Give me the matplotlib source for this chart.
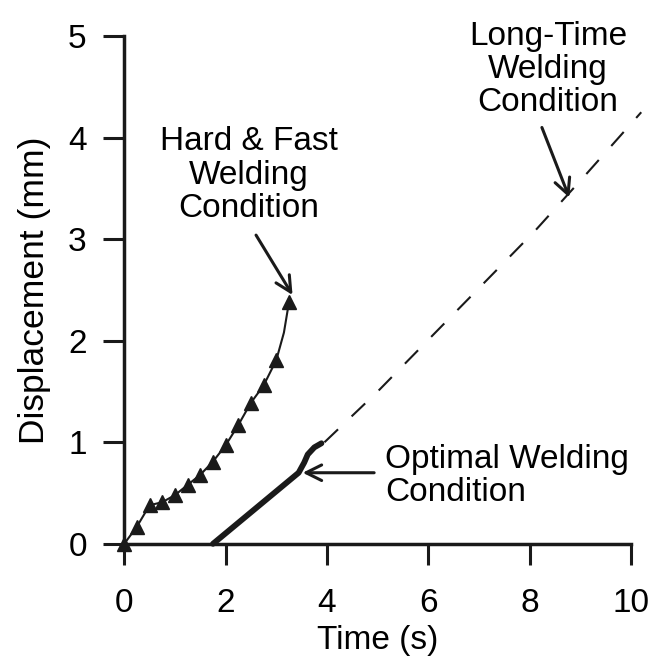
import numpy as np
import matplotlib
matplotlib.use("Agg")
import matplotlib.pyplot as plt

plt.rcParams['font.family'] = ['Liberation Sans', 'DejaVu Sans']

# hard & fast welding (triangles)
hf_t = [0.0, 0.25, 0.5, 0.75, 1.0, 1.25, 1.5, 1.75, 2.0, 2.25, 2.5, 2.75, 3.0, 3.15, 3.25]
hf_d = [0.0, 0.17, 0.38, 0.41, 0.48, 0.58, 0.68, 0.81, 0.97, 1.17, 1.39, 1.56, 1.81, 2.08, 2.38]
hf_marks = [0, 1, 2, 3, 4, 5, 6, 7, 8, 9, 10, 11, 12, 14]

# optimal welding (thick solid)
opt_t = [1.75, 3.44, 3.55, 3.62, 3.75, 3.89]
opt_d = [0.0, 0.70, 0.80, 0.88, 0.95, 0.99]

# long-time welding (dashed)
lt_t = [3.95, 5.0, 6.0, 7.1, 8.1, 9.06, 10.2]
lt_d = [1.0, 1.5, 2.01, 2.57, 3.08, 3.61, 4.25]

fig = plt.figure(figsize=(6.54, 6.56), dpi=100)
ax = fig.add_axes([0.19, 0.171, 0.775, 0.774])

ax.plot(hf_t, hf_d, color='#1a1a1a', lw=1.5, marker='^', ms=10.5,
        markevery=hf_marks, clip_on=False, zorder=3)
ax.plot(opt_t, opt_d, color='#1a1a1a', lw=4.2, solid_capstyle='round',
        solid_joinstyle='round', clip_on=False)
ax.plot(lt_t, lt_d, color='#1a1a1a', lw=1.5, dashes=(9, 9), clip_on=False)

ax.set_xlim(0, 10)
ax.set_ylim(0, 5)
ax.set_xticks([0, 2, 4, 6, 8, 10])
ax.set_yticks([0, 1, 2, 3, 4, 5])
for s in ['top', 'right']:
    ax.spines[s].set_visible(False)
for s in ['left', 'bottom']:
    ax.spines[s].set_linewidth(2.5)
    ax.spines[s].set_color('#1a1a1a')
ax.tick_params(length=15, width=2.2, labelsize=24, color='#1a1a1a')
ax.tick_params(axis='y', pad=12)
ax.tick_params(axis='x', pad=17)
ax.set_xlabel('Time (s)', fontsize=24, labelpad=4)
ax.set_ylabel('Displacement (mm)', fontsize=25.5, labelpad=12)

arrow = dict(arrowstyle='->', lw=2.2, color='#1a1a1a', mutation_scale=28,
             shrinkA=0, shrinkB=0)
ax.text(2.46, 3.63, 'Hard & Fast\nWelding\nCondition', ha='center', va='center',
        fontsize=24, linespacing=1.1)
ax.annotate('', xy=(3.32, 2.45), xytext=(2.6, 3.04), arrowprops=arrow)

ax.text(8.36, 4.67, 'Long-Time\nWelding\nCondition', ha='center', va='center',
        fontsize=24, linespacing=1.1)
ax.annotate('', xy=(8.78, 3.41), xytext=(8.24, 4.10), arrowprops=arrow)

ax.text(5.14, 0.67, 'Optimal Welding\nCondition', ha='left', va='center',
        fontsize=24, linespacing=1.1)
ax.annotate('', xy=(3.52, 0.70), xytext=(4.93, 0.70), arrowprops=arrow)

fig.savefig('out.png', dpi=100)
